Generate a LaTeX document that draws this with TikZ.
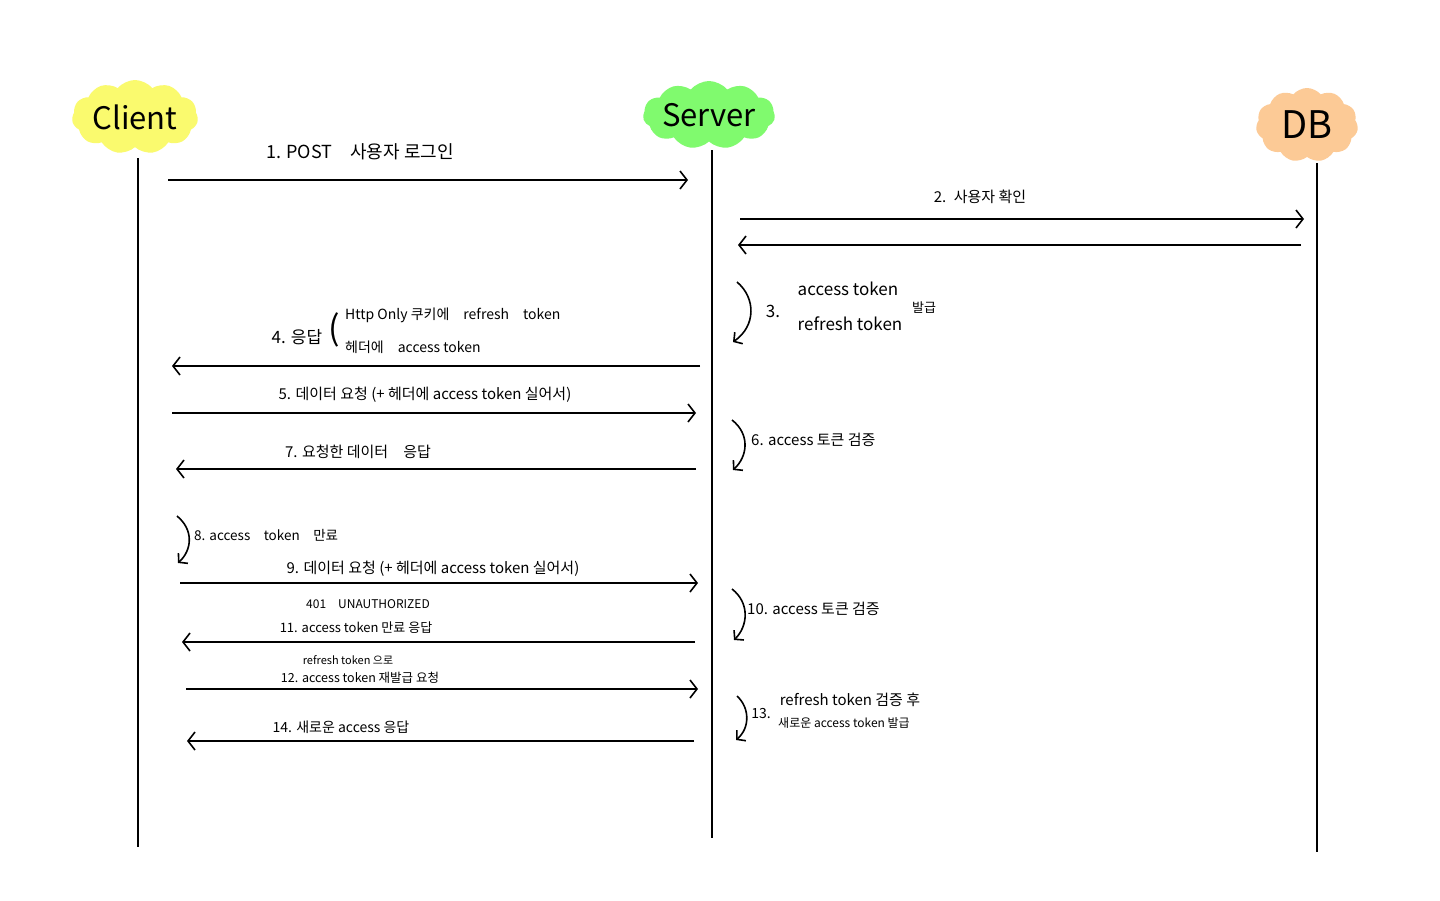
\documentclass[tikz,border=0pt]{standalone}
\usepackage{fontspec}
\setmainfont{Noto Sans CJK KR}
\usepackage{tikz}
\usetikzlibrary{arrows.meta, shapes.symbols, positioning}
\definecolor{clientyel}{RGB}{250,250,110}
\definecolor{servergrn}{RGB}{128,250,110}
\definecolor{dborange}{RGB}{252,202,150}

\tikzset{
  actor/.style={cloud, cloud puffs=11, cloud puff arc=100, aspect=1.7,
                inner sep=0pt},
  actortext/.style={font=\fontsize{31}{34}\selectfont},
  life/.style={line width=1.5pt},
  msg/.style={line width=1.6pt, -{Straight Barb[length=7pt,width=18pt,line width=1.6pt]}},
  loopback/.style={line width=1.6pt, -{Straight Barb[length=6pt,width=14pt,line width=1.6pt]}},
  lbl/.style={font=\fontsize{15}{17}\selectfont, inner sep=1pt},
  small/.style={font=\fontsize{12.5}{14}\selectfont, inner sep=0pt}
}

\begin{document}
\begin{tikzpicture}[x=1pt, y=-1pt]
  \useasboundingbox[fill=white] (0,0) rectangle (1440,900);

  % participants
  \node[actor, fill=clientyel, minimum width=126pt, minimum height=74pt,
        label={[actortext]center:Client}] (client) at (135,117) {};
  \node[actor, fill=servergrn, minimum width=132pt, minimum height=68pt,
        label={[actortext]center:Server}] (server) at (709,115) {};
  \node[actor, fill=dborange, minimum width=102pt, minimum height=74pt,
        label={[actortext, font=\fontsize{38}{42}\selectfont]center:DB}] (db) at (1307,125) {};

  % lifelines
  \coordinate (clientEnd) at (138,847);
  \coordinate (serverEnd) at (712,838);
  \coordinate (dbEnd) at (1317,852);
  \draw[life] (138,158) -- (clientEnd);
  \draw[life] (712,150) -- (serverEnd);
  \draw[life] (1317,163) -- (dbEnd);

  % 1. login
  \coordinate (m1a) at (168,180);  \coordinate (m1b) at (688,180);
  \draw[msg] (m1a) -- (m1b);
  \node[lbl, font=\fontsize{18}{20}\selectfont] (t1) at (360,152) {1. POST\quad 사용자 로그인};

  % 2. check user
  \coordinate (m2a) at (740,219);  \coordinate (m2b) at (1304,219);
  \draw[msg] (m2a) -- (m2b);
  \node[lbl] (t2) at (980,197) {2.\enspace 사용자 확인};
  \coordinate (m2c) at (1301,245); \coordinate (m2d) at (738,245);
  \draw[msg] (m2c) -- (m2d);

  % 3. issue tokens
  \coordinate (s3a) at (737,282);  \coordinate (s3b) at (733,342);
  \draw[loopback] (s3a) .. controls (756,298) and (756,326) .. (s3b);
  \node[lbl, font=\fontsize{17}{19}\selectfont] (t3n) at (773,311) {3.};
  \node[lbl, font=\fontsize{17}{19}\selectfont] (t3a) at (848,289) {access token};
  \node[lbl, font=\fontsize{17}{19}\selectfont] (t3b) at (850,324) {refresh token};
  \node[small, font=\fontsize{13}{15}\selectfont] (t3c) at (924,308) {발급};

  % 4. response
  \coordinate (m4a) at (700,366);  \coordinate (m4b) at (172,366);
  \draw[msg] (m4a) -- (m4b);
  \node[lbl, font=\fontsize{17}{19}\selectfont] (t4) at (297,337) {4. 응답};
  \node[inner sep=0pt, font=\fontsize{34}{36}\selectfont] (t4p) at (334,330) {(};
  \node[small, anchor=west, font=\fontsize{14}{16}\selectfont] (t4a) at (345,315) {Http Only 쿠키에\quad refresh\quad token};
  \node[small, anchor=west, font=\fontsize{14}{16}\selectfont] (t4b) at (345,347) {헤더에\quad access token};

  % 5. data request
  \coordinate (m5a) at (172,413);  \coordinate (m5b) at (696,413);
  \draw[msg] (m5a) -- (m5b);
  \node[lbl] (t5) at (425,395) {5. 데이터 요청 (+ 헤더에 access token 실어서)};

  % 6. verify
  \coordinate (s6a) at (732,420);  \coordinate (s6b) at (733,470);
  \draw[loopback] (s6a) .. controls (750,434) and (748,456) .. (s6b);
  \node[lbl, anchor=west] (t6) at (750,440) {6. access 토큰 검증};

  % 7. data response
  \coordinate (m7a) at (696,469);  \coordinate (m7b) at (176,469);
  \draw[msg] (m7a) -- (m7b);
  \node[lbl] (t7) at (358,452) {7. 요청한 데이터\quad 응답};

  % 8. expired
  \coordinate (c8a) at (177,516);  \coordinate (c8b) at (178,563);
  \draw[loopback] (c8a) .. controls (194,530) and (192,550) .. (c8b);
  \node[small, anchor=west, font=\fontsize{13.5}{15}\selectfont] (t8) at (194,535) {8. access\quad token\quad 만료};

  % 9. data request
  \coordinate (m9a) at (180,583);  \coordinate (m9b) at (698,583);
  \draw[msg] (m9a) -- (m9b);
  \node[lbl] (t9) at (433,569) {9. 데이터 요청 (+ 헤더에 access token 실어서)};

  % 10. verify
  \coordinate (s10a) at (732,589);  \coordinate (s10b) at (734,640);
  \draw[loopback] (s10a) .. controls (750,603) and (748,626) .. (s10b);
  \node[lbl, anchor=west] (t10) at (746,609) {10. access 토큰 검증};

  % 11. 401
  \coordinate (m11a) at (695,642); \coordinate (m11b) at (182,642);
  \draw[msg] (m11a) -- (m11b);
  \node[small, font=\fontsize{12}{14}\selectfont] (t11a) at (368,604) {401\quad UNAUTHORIZED};
  \node[small, font=\fontsize{13}{15}\selectfont] (t11b) at (356,628) {11. access token 만료 응답};

  % 12. reissue request
  \coordinate (m12a) at (186,689); \coordinate (m12b) at (698,689);
  \draw[msg] (m12a) -- (m12b);
  \node[small, font=\fontsize{11}{13}\selectfont] (t12a) at (348,660) {refresh token 으로};
  \node[small, font=\fontsize{12.5}{14}\selectfont] (t12b) at (360,678) {12. access token 재발급 요청};

  % 13. reissue
  \coordinate (s13a) at (737,696); \coordinate (s13b) at (736,740);
  \draw[loopback] (s13a) .. controls (750,708) and (750,728) .. (s13b);
  \node[lbl, font=\fontsize{14}{16}\selectfont] (t13n) at (761,713) {13.};
  \node[lbl] (t13a) at (850,700) {refresh token 검증 후};
  \node[small, font=\fontsize{12}{14}\selectfont] (t13b) at (844,723) {새로운 access token 발급};

  % 14. new token response
  \coordinate (m14a) at (694,741); \coordinate (m14b) at (187,741);
  \draw[msg] (m14a) -- (m14b);
  \node[lbl, font=\fontsize{14}{16}\selectfont] (t14) at (341,727) {14. 새로운 access 응답};
\end{tikzpicture}
\end{document}
